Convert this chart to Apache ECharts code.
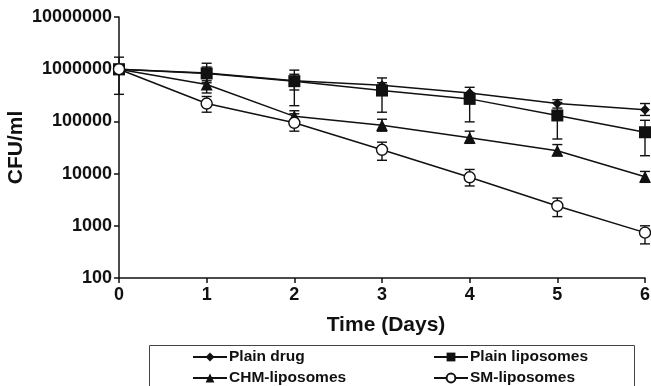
<!DOCTYPE html>
<html>
<head>
<meta charset="utf-8">
<script src="https://cdn.jsdelivr.net/npm/echarts@6/dist/echarts.min.js"></script>
<style>
  html, body { margin: 0; padding: 0; background: #fff; }
  #main { width: 651px; height: 386px; }
</style>
</head>
<body>
<div id="main"></div>
<script>
const days = [0, 1, 2, 3, 4, 5, 6];

const seriesNames = ["Plain drug", "Plain liposomes", "CHM-liposomes", "SM-liposomes"];

const plainDrug = [1000000, 850000, 600000, 490000, 350000, 220000, 168000];
const plainDrugLow = [330000, 600000, 400000, 400000, 300000, 180000, 130000];
const plainDrugHigh = [1700000, 1100000, 800000, 680000, 450000, 260000, 220000];

const plainLipo = [1000000, 830000, 590000, 390000, 270000, 130000, 62000];
const plainLipoLow = [800000, 550000, 200000, 150000, 98000, 46000, 22000];
const plainLipoHigh = [1200000, 1300000, 960000, 550000, 350000, 230000, 105000];

const chmLipo = [1000000, 510000, 125000, 84000, 48500, 27500, 8700];
const chmLipoLow = [850000, 350000, 90000, 65000, 38000, 22000, 6800];
const chmLipoHigh = [1150000, 700000, 160000, 110000, 65000, 36000, 11000];

const smLipo = [1000000, 220000, 94000, 28600, 8500, 2400, 740];
const smLipoLow = [800000, 150000, 65000, 18000, 5800, 1500, 450];
const smLipoHigh = [1200000, 300000, 140000, 40000, 12000, 3400, 1000];

const yTicks = [100, 1000, 10000, 100000, 1000000, 10000000];

const FONT = "Liberation Sans";

function pairs(ys) { return days.map((d, i) => [d, ys[i]]); }
function errData(lo, hi) { return days.map((d, i) => [d, lo[i], hi[i]]); }

function errorSeries(name, lo, hi) {
  return {
    type: "custom",
    name: name,
    z: 1,
    silent: true,
    data: errData(lo, hi),
    renderItem: function (params, api) {
      const top = api.coord([api.value(0), api.value(2)]);
      const bot = api.coord([api.value(0), api.value(1)]);
      const w = 5;
      const style = { stroke: "#111", lineWidth: 1.4 };
      return {
        type: "group",
        children: [
          { type: "line", shape: { x1: top[0], y1: top[1], x2: bot[0], y2: bot[1] }, style: style },
          { type: "line", shape: { x1: top[0] - w, y1: top[1], x2: top[0] + w, y2: top[1] }, style: style },
          { type: "line", shape: { x1: bot[0] - w, y1: bot[1], x2: bot[0] + w, y2: bot[1] }, style: style },
        ],
      };
    },
  };
}

function lineSeries(name, ys, symbol, size, fill) {
  return {
    type: "line",
    name: name,
    z: 3,
    data: pairs(ys),
    symbol: symbol,
    symbolSize: size,
    showAllSymbol: true,
    lineStyle: { color: "#111", width: 1.5 },
    itemStyle: { color: fill, borderColor: "#111", borderWidth: symbol === "circle" ? 1.4 : 0 },
  };
}

function legendAt(name, left, top) {
  return {
    data: [name],
    left: left,
    top: top,
    padding: 0,
    itemWidth: 34,
    itemHeight: 11,
    selectedMode: false,
    textStyle: { fontFamily: FONT, fontWeight: "bold", fontSize: 15.5, color: "#111", padding: [0, 0, 0, -3] },
  };
}

const chart = echarts.init(document.getElementById("main"));

chart.setOption({
  animation: false,
  backgroundColor: "#fff",
  grid: { left: 119, right: 6, top: 17, bottom: 108, containLabel: false, outerBoundsMode: "none" },
  xAxis: {
    type: "value",
    min: 0,
    max: 6,
    interval: 1,
    name: "Time (Days)",
    nameLocation: "middle",
    nameGap: 37,
    nameMoveOverlap: false,
    nameTextStyle: { fontFamily: FONT, fontWeight: "bold", fontSize: 21, color: "#111", padding: [0, 0, 0, 8] },
    axisLine: { lineStyle: { color: "#111", width: 1.5 } },
    axisTick: { show: true, length: 5, lineStyle: { color: "#111", width: 1.5 } },
    axisLabel: { fontFamily: FONT, fontWeight: "bold", fontSize: 18, color: "#111", margin: 8 },
    splitLine: { show: false },
  },
  yAxis: {
    type: "log",
    logBase: 10,
    min: yTicks[0],
    max: yTicks[yTicks.length - 1],
    name: "CFU/ml",
    nameLocation: "middle",
    nameGap: 92,
    nameMoveOverlap: false,
    nameRotate: 90,
    nameTextStyle: { fontFamily: FONT, fontWeight: "bold", fontSize: 21, color: "#111" },
    axisLine: { show: true, lineStyle: { color: "#111", width: 1.5 } },
    axisTick: { show: true, length: 5, lineStyle: { color: "#111", width: 1.5 } },
    axisLabel: {
      fontFamily: FONT, fontWeight: "bold", fontSize: 18, color: "#111", margin: 7,
      formatter: v => String(Math.round(v)),
    },
    splitLine: { show: false },
  },
  legend: [
    legendAt(seriesNames[0], 192, 349),
    legendAt(seriesNames[1], 433, 349),
    legendAt(seriesNames[2], 192, 370),
    legendAt(seriesNames[3], 433, 370),
  ],
  graphic: [
    {
      type: "rect",
      left: 147,
      top: 343,
      shape: { width: 485, height: 50 },
      style: { fill: "none", stroke: "#444", lineWidth: 1 },
      silent: true,
    },
  ],
  series: [
    errorSeries("err0", plainDrugLow, plainDrugHigh),
    errorSeries("err1", plainLipoLow, plainLipoHigh),
    errorSeries("err2", chmLipoLow, chmLipoHigh),
    errorSeries("err3", smLipoLow, smLipoHigh),
    lineSeries(seriesNames[0], plainDrug, "diamond", 10, "#111"),
    lineSeries(seriesNames[1], plainLipo, "rect", 12, "#111"),
    lineSeries(seriesNames[2], chmLipo, "triangle", 12, "#111"),
    lineSeries(seriesNames[3], smLipo, "circle", 11, "#fff"),
  ],
});
</script>
</body>
</html>
